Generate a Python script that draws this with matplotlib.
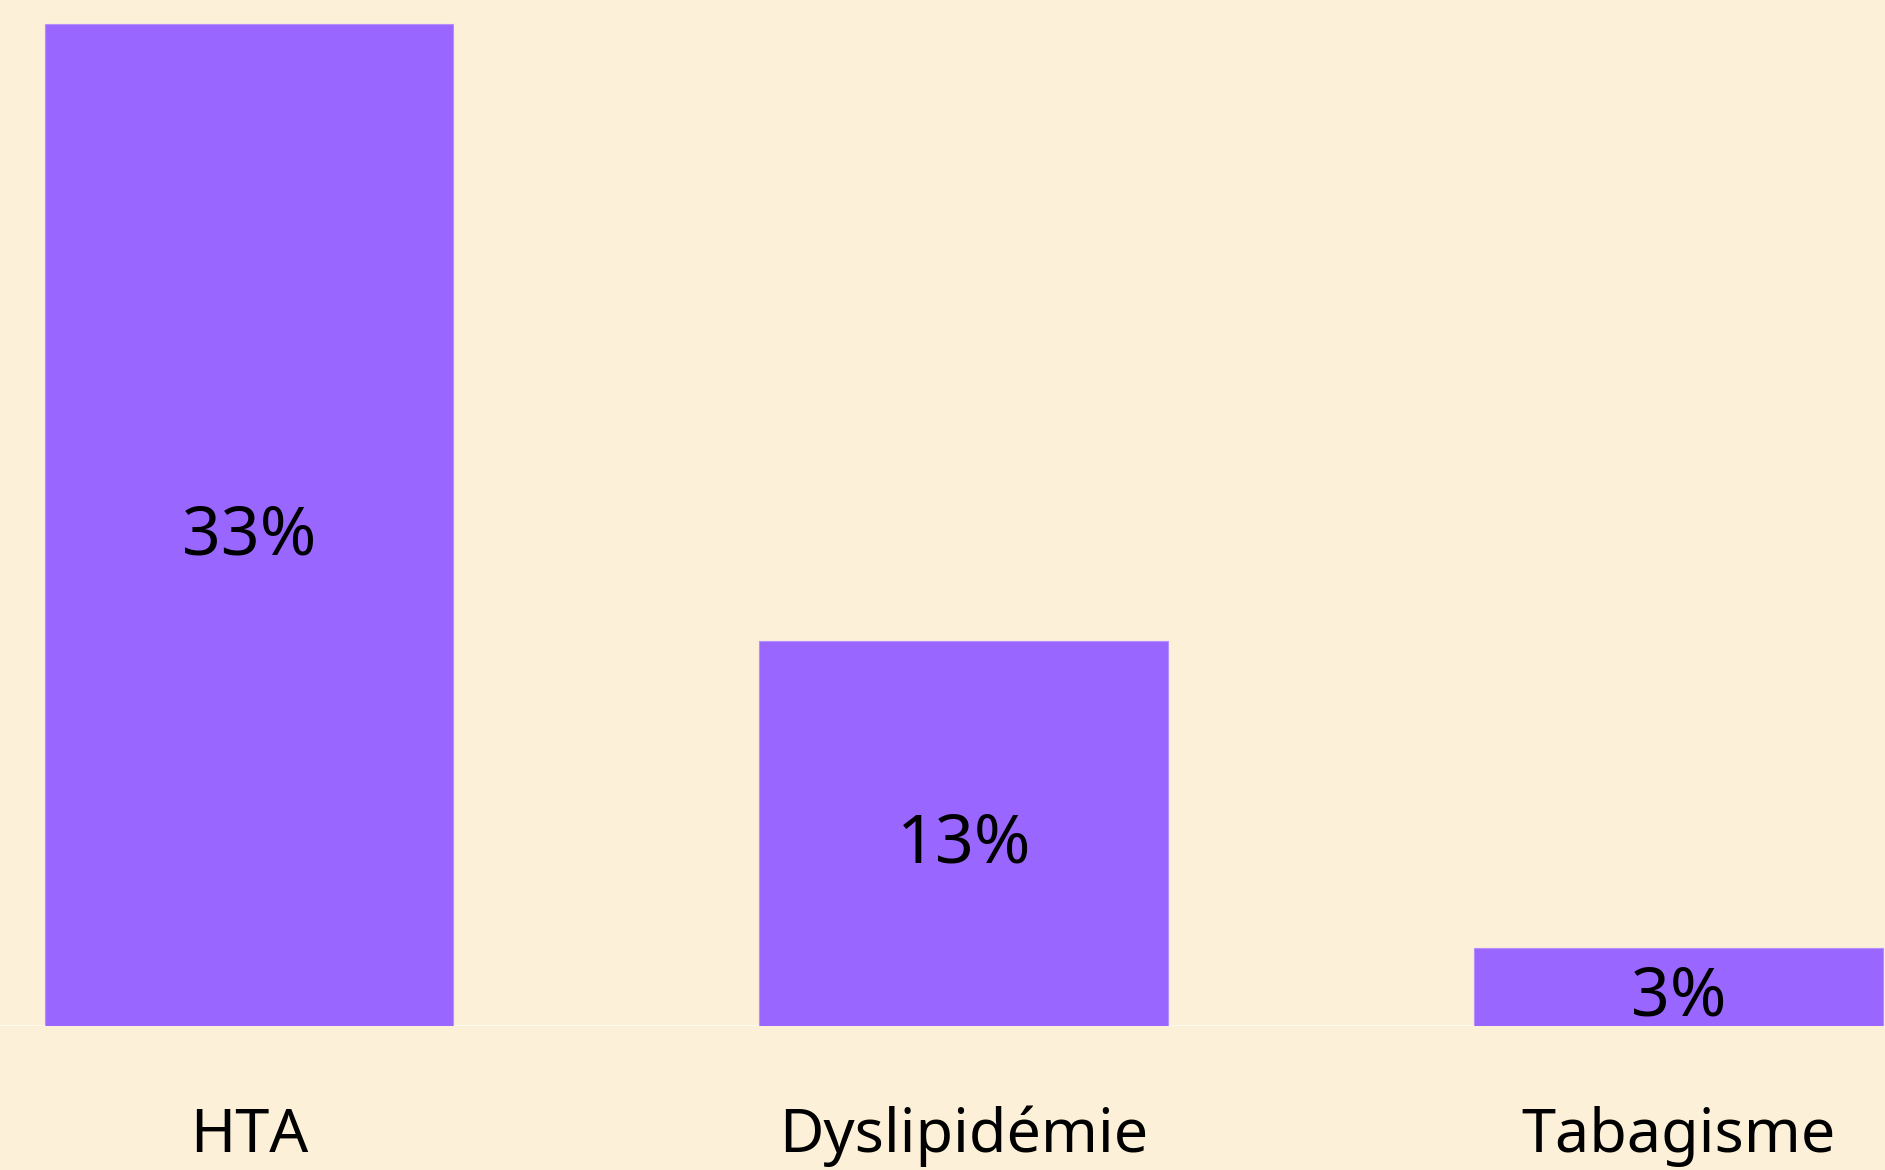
import matplotlib
matplotlib.use("Agg")
import matplotlib.pyplot as plt

# facteurs de risque (n = 13, 5, 1 sur 39)
categories = ["HTA", "Dyslipidémie", "Tabagisme"]
values = [33.3, 12.8, 2.6]
labels = ["33%", "13%", "3%"]

bg = "#fcf0d8"
bar_color = "#9966ff"

plt.rcParams["font.family"] = ["Noto Sans", "DejaVu Sans"]

fig = plt.figure(figsize=(18.85, 11.70), dpi=100)
fig.patch.set_facecolor(bg)
ax = fig.add_axes([0, 0.1233, 1, 0.8767])
ax.set_facecolor(bg)

x = range(len(categories))
bars = ax.bar(x, values, width=0.572, color=bar_color,
              edgecolor="#b490ff", linewidth=0.8, zorder=2)

# valeurs au centre des barres
for b, lab in zip(bars, labels):
    ax.annotate(lab, (b.get_x() + b.get_width() / 2, b.get_height() / 2),
                xytext=(0, -8), textcoords="offset points",
                ha="center", va="center", fontsize=49, color="black", zorder=3)

# noms des catégories sous l'axe
for i, cat in zip(x, categories):
    ax.text(i, -4.19, cat, ha="center", va="baseline", fontsize=44,
            color="black", clip_on=False)

ax.set_xlim(-0.3485, 2.289)
ax.set_ylim(0, 34.1)

# ligne de base claire
ax.axhline(0, color="#fffaf0", linewidth=1.5, zorder=1)

for s in ax.spines.values():
    s.set_visible(False)
ax.set_xticks([])
ax.set_yticks([])

fig.savefig("out.png", dpi=100, facecolor=bg)
